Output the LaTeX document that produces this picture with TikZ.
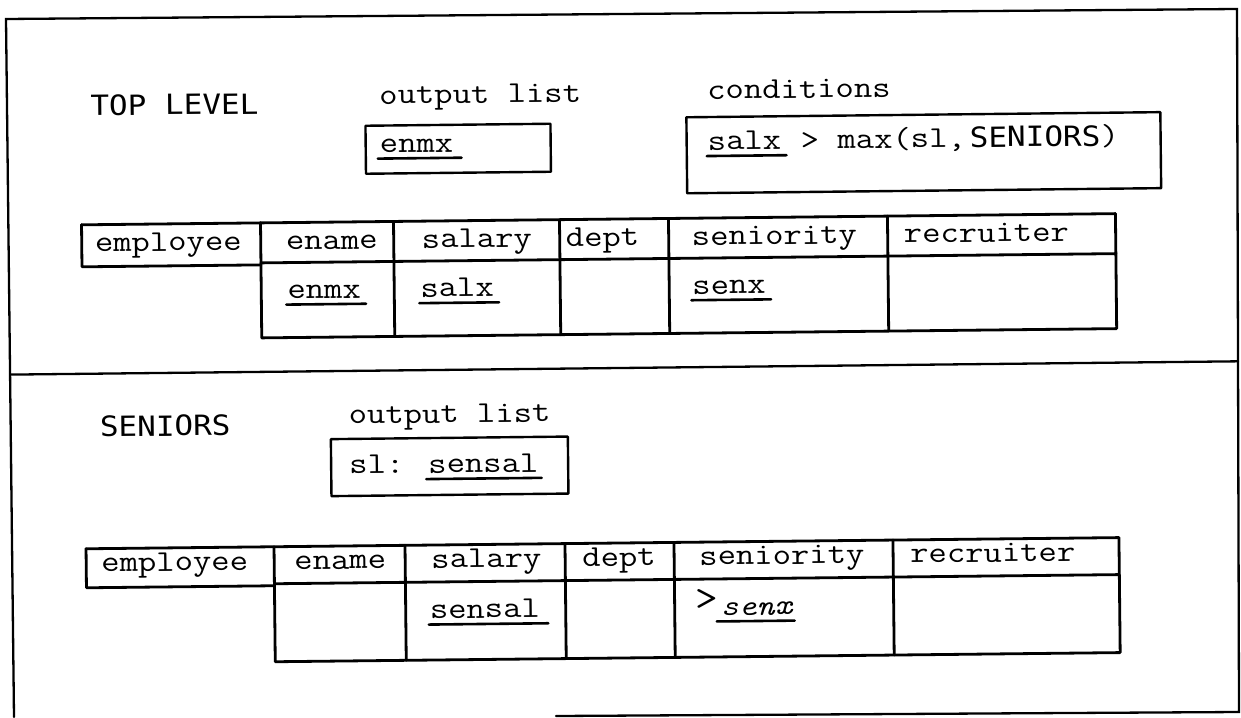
\documentclass[tikz,border=0pt]{standalone}
\usepackage{fontspec}
\newfontfamily\gothic{DejaVu Sans Mono}
\tikzset{
  lw/.style={font=\ttfamily\fontsize{35.6}{40}\selectfont, anchor=base west, inner sep=0pt, transform shape, yscale=0.85},
  itx/.style={font=\ttfamily\itshape\fontsize{34}{40}\selectfont, anchor=base west, inner sep=0pt, transform shape, yscale=0.85},
  up/.style={font=\gothic\fontsize{31}{36}\selectfont, anchor=base west, inner sep=0pt, transform shape, yscale=0.9},
  grid/.style={line width=2.8pt, line cap=round, line join=round},
  boxline/.style={line width=2.4pt, line join=round},
  frame/.style={line width=2.3pt, line cap=round},
  uline/.style={line width=2.6pt, line cap=round},
}
\begin{document}
\begin{tikzpicture}[x=1pt,y=-1pt]
\useasboundingbox (0,0) rectangle (1241,717);
\fill[white] (0,0) rectangle (1241,717);

% outer frame (hand-drawn, slightly skewed)
\coordinate (ftl) at (6,19);
\coordinate (ftr) at (1237,9);
\coordinate (fbr) at (1239,712);
\coordinate (fbm) at (556,716);
\coordinate (fbl) at (14,717);
\draw[frame] (fbl) -- (ftl) -- (ftr) -- (fbr) -- (fbm);

\begin{scope}[rotate around={0.62:(620,360)}]
% divider between the two sections
\draw[frame] (10,368) -- (1238,368);

% ================= TOP LEVEL =================
\node[up] (tl) at (93,110) {TOP LEVEL};
\node[lw] (ol1) at (382,101.5) {output list};
\draw[boxline] (368,123) rectangle (553,171);
\node[lw] (o1) at (382,150) {enmx};
\draw[uline] ([xshift=-2pt,yshift=-6pt]o1.base west) -- ([xshift=8pt,yshift=-6pt]o1.base east);

\node[lw] (cd) at (710,100) {conditions};
\draw[boxline] (689,118) rectangle (1163,194);
\node[lw] (c1) at (710,151) {salx};
\node[lw] (c2) at (803,151) {> max(sl,};
\node[up] (c3) at (972,151) {SENIORS};
\node[lw] (c4) at (1103,151) {)};
\draw[uline] ([xshift=-1pt,yshift=-6pt]c1.base west) -- ([xshift=5pt,yshift=-6pt]c1.base east);

% table
\draw[grid] (83,219) -- (1117,219);
\draw[grid] (83,219) -- (83,261) -- (262,261);
\draw[grid] (262,259) -- (1117,259);
\draw[grid] (262,219) -- (262,334) -- (1117,334) -- (1117,219);
\foreach \xx in {395,561,670,889} \draw[grid] (\xx,219) -- (\xx,334);

\node[lw] (h1) at (96,246) {employee};
\node[lw] (h2) at (287,246) {ename};
\node[lw] (h3) at (423,246) {salary};
\node[lw] (h4) at (567,246) {dept};
\node[lw] (h5) at (693,246) {seniority};
\node[lw] (h6) at (905,246) {recruiter};

\node[lw] (b1) at (288,295) {enmx};
\node[lw] (b2) at (421,295) {salx};
\node[lw] (b3) at (693,295) {senx};
\foreach \n in {b1,b2,b3}
  \draw[uline] ([xshift=-1pt,yshift=-6pt]\n.base west) -- ([xshift=5pt,yshift=-6pt]\n.base east);

% ================= SENIORS =================
\node[up] (sn) at (99,431) {SENIORS};
\node[lw] (ol2) at (348,421) {output list};
\draw[boxline] (330,436) rectangle (567,493);
\node[lw] (sl) at (348,471) {sl:};
\node[lw] (ss) at (427,471) {sensal};
\draw[uline] ([xshift=-2pt,yshift=-6pt]ss.base west) -- ([xshift=3pt,yshift=-6pt]ss.base east);

% table
\draw[grid] (84,543) -- (1117,543);
\draw[grid] (84,543) -- (84,582) -- (272,582);
\draw[grid] (272,580) -- (1117,580);
\draw[grid] (272,543) -- (272,658) -- (1117,658) -- (1117,543);
\foreach \xx in {403,563,672,891} \draw[grid] (\xx,543) -- (\xx,658);

\node[lw] (g1) at (99,566) {employee};
\node[lw] (g2) at (292,566) {ename};
\node[lw] (g3) at (429,566) {salary};
\node[lw] (g4) at (580,566) {dept};
\node[lw] (g5) at (697,566) {seniority};
\node[lw] (g6) at (908,566) {recruiter};

\node[lw] (d1) at (427,616.5) {sensal};
\draw[uline] ([xshift=-1pt,yshift=-6pt]d1.base west) -- ([xshift=8pt,yshift=-6pt]d1.base east);
\node[lw, scale=1.25] (d2) at (693,611) {>};
\node[itx] (d3) at (718,616.5) {senx};
\draw[uline] ([xshift=-4pt,yshift=-6pt]d3.base west) -- ([xshift=2pt,yshift=-6pt]d3.base east);
\end{scope}
\end{tikzpicture}
\end{document}
